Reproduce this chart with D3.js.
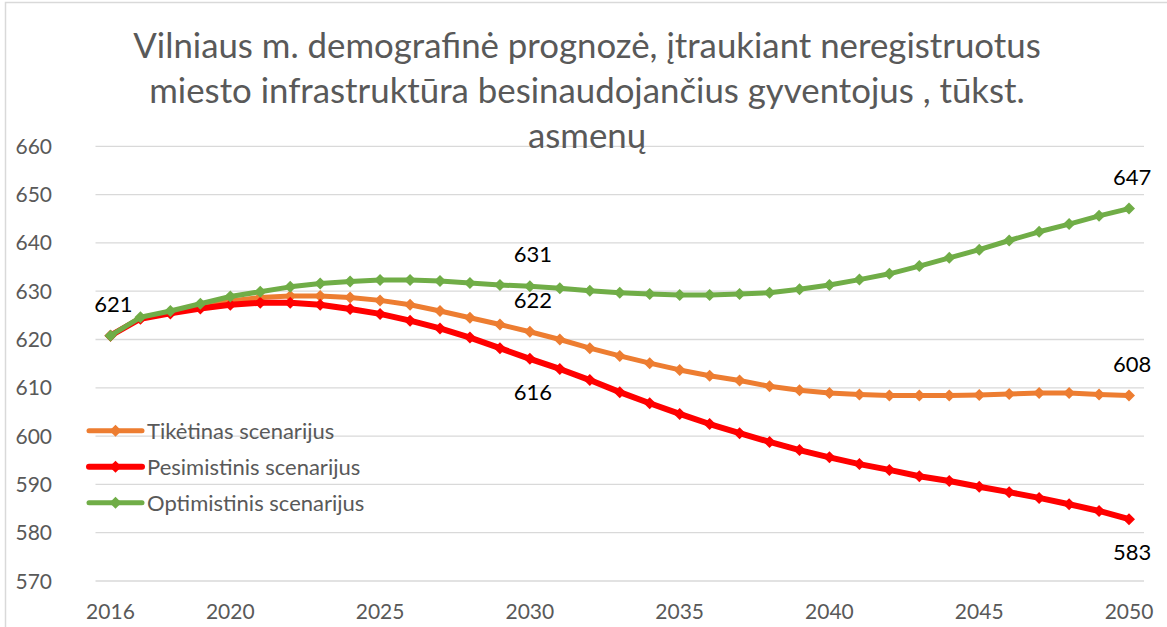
<!DOCTYPE html>
<html>
<head>
<meta charset="utf-8">
<script src="https://cdn.jsdelivr.net/npm/d3@7"></script>
<style>
  html, body { margin: 0; padding: 0; background: #fff; }
  svg { display: block; }
  text { font-family: Lato, "Open Sans", sans-serif; }
</style>
</head>
<body>
<svg id="chart" width="1167" height="627"></svg>
<script>
const years = [2016,2017,2018,2019,2020,2021,2022,2023,2024,2025,2026,2027,2028,2029,2030,2031,2032,2033,2034,2035,2036,2037,2038,2039,2040,2041,2042,2043,2044,2045,2046,2047,2048,2049,2050];
const xTickLabels = [2016,2020,2025,2030,2035,2040,2045,2050];
const yTicks = [570,580,590,600,610,620,630,640,650,660];

const tiketinas = [620.8,624.4,625.6,626.8,628.0,628.7,629.0,629.0,628.7,628.1,627.2,625.9,624.5,623.1,621.6,620.0,618.2,616.6,615.1,613.7,612.5,611.5,610.3,609.5,608.9,608.6,608.4,608.4,608.4,608.5,608.7,608.9,608.9,608.6,608.4];
const pesimistinis = [620.8,624.3,625.4,626.4,627.2,627.6,627.6,627.2,626.3,625.3,623.9,622.3,620.4,618.2,616.0,613.9,611.6,609.1,606.8,604.6,602.5,600.6,598.8,597.1,595.6,594.2,593.0,591.7,590.7,589.5,588.4,587.2,585.9,584.5,582.8];
const optimistinis = [620.8,624.6,625.9,627.4,628.9,629.9,630.9,631.6,632.0,632.3,632.3,632.1,631.7,631.3,631.0,630.6,630.1,629.7,629.4,629.2,629.2,629.4,629.7,630.4,631.3,632.4,633.6,635.2,636.9,638.6,640.5,642.3,643.9,645.6,647.1];

const seriesNames = ["Tikėtinas scenarijus","Pesimistinis scenarijus","Optimistinis scenarijus"];
const seriesColors = ["#ED7D31","#FF0000","#70AD47"];
const seriesValues = [tiketinas, pesimistinis, optimistinis];

// data labels: [series index, year, placement]
const dataLabels = [
  [2, 2016, "above"],
  [2, 2030, "above"],
  [0, 2030, "above"],
  [1, 2030, "below"],
  [2, 2050, "above"],
  [0, 2050, "above"],
  [1, 2050, "below"]
];

const titleLines = [
  "Vilniaus m. demografinė prognozė, įtraukiant neregistruotus",
  "miesto infrastruktūra besinaudojančius gyventojus , tūkst.",
  "asmenų"
];

const svg = d3.select("#chart");
const W = 1167, H = 627;

// chart border (top & left visible)
svg.append("rect").attr("x", 5.5).attr("y", 2.5).attr("width", W + 10).attr("height", H + 10)
  .attr("fill", "#fff").attr("stroke", "#d9d9d9").attr("stroke-width", 1.5);

const x = d3.scaleBand().domain(years).range([95.5, 1144]).padding(0);
const xc = d => x(d) + x.bandwidth() / 2;
const y = d3.scaleLinear().domain([570, 660]).range([581, 146.3]);

// gridlines
svg.append("g").selectAll("line").data(yTicks).join("line")
  .attr("x1", 95.5).attr("x2", 1144)
  .attr("y1", d => y(d)).attr("y2", d => y(d))
  .attr("stroke", "#d9d9d9").attr("stroke-width", 1.3);

// title
const title = svg.append("g");
const titleBaselines = [58, 103, 148];
titleLines.forEach((t, i) => {
  title.append("text").attr("x", 587).attr("y", titleBaselines[i])
    .attr("text-anchor", "middle").attr("fill", "#595959")
    .attr("font-size", 31).text(t);
});
// fit first title line to target width
{
  const first = title.select("text").node();
  const w = first.getComputedTextLength();
  const fs = 31 * 908 / w;
  title.selectAll("text").attr("font-size", Math.min(38, Math.max(26, fs)));
}

// y axis labels
svg.append("g").selectAll("text").data(yTicks).join("text")
  .attr("x", 52).attr("y", d => y(d)).attr("dy", "0.36em")
  .attr("text-anchor", "end").attr("fill", "#595959").attr("font-size", 21)
  .text(d => d);

// x axis labels
svg.append("g").selectAll("text").data(xTickLabels).join("text")
  .attr("x", d => xc(d)).attr("y", 619)
  .attr("text-anchor", "middle").attr("fill", "#595959").attr("font-size", 21)
  .text(d => d);

// diamond symbol (square rotated)
const diamond = {
  draw(ctx, size) {
    const r = Math.sqrt(size / 2);
    ctx.moveTo(0, -r); ctx.lineTo(r, 0); ctx.lineTo(0, r); ctx.lineTo(-r, 0); ctx.closePath();
  }
};
const sym = d3.symbol().type(diamond).size(72);

const line = d3.line().x((d, i) => xc(years[i])).y(d => y(d));

seriesValues.forEach((vals, s) => {
  const g = svg.append("g");
  g.append("path").datum(vals).attr("d", line)
    .attr("fill", "none").attr("stroke", seriesColors[s])
    .attr("stroke-width", s === 1 ? 6 : 5).attr("stroke-linejoin", "round").attr("stroke-linecap", "round");
  g.selectAll("path.m").data(vals).join("path").attr("class", "m")
    .attr("d", sym)
    .attr("transform", (d, i) => `translate(${xc(years[i])},${y(d)})`)
    .attr("fill", seriesColors[s]);
});

// data labels
svg.append("g").selectAll("text").data(dataLabels).join("text")
  .attr("x", d => xc(d[1]) + 3)
  .attr("y", d => {
    const v = seriesValues[d[0]][years.indexOf(d[1])];
    return d[2] === "above" ? y(v) - 24 : y(v) + 41;
  })
  .attr("text-anchor", "middle").attr("fill", "#000").attr("font-size", 22)
  .text(d => Math.round(seriesValues[d[0]][years.indexOf(d[1])]));

// legend
const legendY = [430.7, 466.7, 502.7];
const lg = svg.append("g");
seriesNames.forEach((name, i) => {
  lg.append("line").attr("x1", 89).attr("x2", 142).attr("y1", legendY[i]).attr("y2", legendY[i])
    .attr("stroke", seriesColors[i]).attr("stroke-width", i === 1 ? 6 : 5).attr("stroke-linecap", "round");
  lg.append("path").attr("d", sym).attr("transform", `translate(115.5,${legendY[i]})`).attr("fill", seriesColors[i]);
  lg.append("text").attr("x", 147).attr("y", legendY[i]).attr("dy", "0.36em")
    .attr("fill", "#595959").attr("font-size", 22).text(name);
});
</script>
</body>
</html>
